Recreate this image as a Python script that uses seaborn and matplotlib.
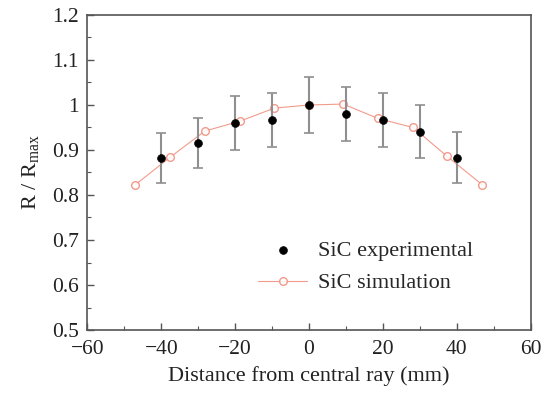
import matplotlib
matplotlib.use("Agg")
import matplotlib.pyplot as plt
import seaborn as sns
import pandas as pd
from matplotlib.ticker import MultipleLocator

# Data
exp_x = [-40, -30, -20, -10, 0, 10, 20, 30, 40]
exp_y = [0.882, 0.916, 0.960, 0.967, 1.000, 0.979, 0.967, 0.941, 0.883]
exp_err = [0.055, 0.055, 0.059, 0.060, 0.062, 0.060, 0.060, 0.058, 0.056]

sim_x = [-47, -37.6, -28.2, -18.7, -9.4, 0, 9.3, 18.7, 28.2, 37.4, 46.9]
sim_y = [0.823, 0.884, 0.942, 0.964, 0.993, 1.000, 1.002, 0.970, 0.950, 0.886, 0.823]

x_ticks = [-60, -40, -20, 0, 20, 40, 60]
x_ticklabels = ["\u221260", "\u221240", "\u221220", "0", "20", "40", "60"]
y_ticks = [0.5, 0.6, 0.7, 0.8, 0.9, 1.0, 1.1, 1.2]
y_ticklabels = ["0.5", "0.6", "0.7", "0.8", "0.9", "1", "1.1", "1.2"]

sns.set_theme(style="ticks")
plt.rcParams['font.family'] = ['Liberation Serif', 'DejaVu Serif']
plt.rcParams['mathtext.fontset'] = 'custom'
plt.rcParams['mathtext.rm'] = 'Liberation Serif'
plt.rcParams['mathtext.it'] = 'Liberation Serif'

fig = plt.figure(figsize=(5.43, 3.94), dpi=100)
ax = fig.add_axes([0.161, 0.1624, 0.816, 0.7996])

df_exp = pd.DataFrame({"x": exp_x, "y": exp_y, "err": exp_err})
df_sim = pd.DataFrame({"x": sim_x, "y": sim_y})

sim_col = "#f08a78"
sns.lineplot(data=df_sim, x="x", y="y", ax=ax, color=sim_col, lw=0.8, alpha=0.85,
             marker="o", markersize=5.5, markerfacecolor="white",
             markeredgecolor=sim_col, markeredgewidth=1.0, label="SiC simulation",
             zorder=2)
ax.errorbar(df_exp["x"], df_exp["y"], yerr=df_exp["err"], fmt="none",
            ecolor="#8f8f8f", elinewidth=1.5, capsize=3.5, capthick=1.2, zorder=3)
sns.scatterplot(data=df_exp, x="x", y="y", ax=ax, color="black", s=32,
                edgecolor="black", label="SiC experimental", zorder=4)

ax.set_xlim(-60, 60)
ax.set_ylim(0.5, 1.2)
ax.xaxis.set_minor_locator(MultipleLocator(10))
ax.yaxis.set_minor_locator(MultipleLocator(0.05))
ax.set_yticks(y_ticks)
ax.set_yticklabels(y_ticklabels)
ax.set_xticks(x_ticks)
ax.set_xticklabels(x_ticklabels)

for s in ax.spines.values():
    s.set_color("#555555")
    s.set_linewidth(1.2)
ax.tick_params(which="both", direction="in", colors="#555555", labelcolor="#222222",
               labelsize=15.5, top=False, right=False)
ax.tick_params(axis="x", which="major", pad=7)
ax.tick_params(axis="y", which="major", pad=6)
ax.tick_params(which="major", length=5, width=1)
ax.tick_params(which="minor", length=3, width=0.8)

ax.set_xlabel("Distance from central ray (mm)", fontsize=16, color="#222222", labelpad=5)
ax.set_ylabel("R / R$_{\\mathrm{max}}$", fontsize=16, color="#222222", labelpad=8)

handles, labels = ax.get_legend_handles_labels()
order = [labels.index("SiC experimental"), labels.index("SiC simulation")]
ax.legend([handles[i] for i in order], [labels[i] for i in order],
          loc="upper left", bbox_to_anchor=(0.34, 0.349), frameon=False,
          fontsize=16, handlelength=2.2, handletextpad=0.5, labelspacing=0.55,
          borderpad=0.4)

fig.savefig("out.png", dpi=100)
